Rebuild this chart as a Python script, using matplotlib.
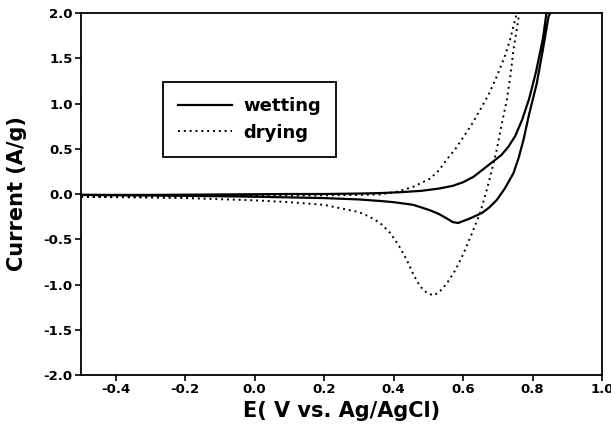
import numpy as np
import matplotlib
matplotlib.use('Agg')
import matplotlib.pyplot as plt

# wetting loop (solid): anodic sweep then cathodic sweep
wet_fwd_E = [-0.5, -0.3, -0.1, 0.1, 0.2, 0.3, 0.36, 0.42, 0.48, 0.53, 0.57, 0.60,
             0.63, 0.65, 0.67, 0.69, 0.71, 0.73, 0.75, 0.77, 0.79, 0.81, 0.83, 0.84]
wet_fwd_I = [-0.01, -0.01, -0.005, 0.0, 0.0, 0.005, 0.01, 0.02, 0.035, 0.06, 0.09, 0.13,
             0.19, 0.25, 0.31, 0.37, 0.43, 0.52, 0.64, 0.82, 1.05, 1.35, 1.72, 2.0]
wet_rev_E = [0.851, 0.846, 0.83, 0.812, 0.79, 0.774, 0.76, 0.745, 0.72, 0.697, 0.675,
             0.654, 0.62, 0.586, 0.57, 0.553, 0.53, 0.505, 0.457, 0.40, 0.361, 0.3,
             0.2, 0.0, -0.2, -0.5]
wet_rev_I = [2.0, 1.96, 1.6, 1.22, 0.88, 0.60, 0.40, 0.23, 0.06, -0.066, -0.15,
             -0.21, -0.27, -0.32, -0.31, -0.27, -0.22, -0.18, -0.12, -0.09, -0.077, -0.06,
             -0.045, -0.03, -0.02, -0.01]

# drying loop (dotted)
dry_fwd_E = [-0.5, -0.2, 0.0, 0.2, 0.3, 0.361, 0.409, 0.457, 0.505, 0.53, 0.553, 0.58,
             0.601, 0.625, 0.649, 0.675, 0.697, 0.72, 0.735, 0.752, 0.755]
dry_fwd_I = [-0.03, -0.025, -0.02, -0.015, -0.01, -0.005, 0.025, 0.08, 0.17, 0.26, 0.38, 0.51,
             0.63, 0.77, 0.93, 1.11, 1.30, 1.52, 1.70, 1.96, 2.0]
dry_rev_E = [0.762, 0.745, 0.736, 0.726, 0.71, 0.697, 0.678, 0.665, 0.649, 0.625, 0.601,
             0.578, 0.553, 0.53, 0.514, 0.495, 0.476, 0.457, 0.438, 0.415, 0.39, 0.361,
             0.33, 0.3, 0.25, 0.2, 0.1, 0.0, -0.2, -0.5]
dry_rev_I = [2.0, 1.59, 1.30, 1.04, 0.75, 0.49, 0.19, 0.0, -0.21, -0.44, -0.66,
             -0.84, -0.99, -1.09, -1.12, -1.09, -1.02, -0.89, -0.73, -0.57, -0.43, -0.32,
             -0.25, -0.2, -0.16, -0.12, -0.09, -0.07, -0.045, -0.03]

x_ticks = [-0.4, -0.2, 0.0, 0.2, 0.4, 0.6, 0.8, 1.0]
y_ticks = [-2.0, -1.5, -1.0, -0.5, 0.0, 0.5, 1.0, 1.5, 2.0]

plt.rcParams['font.family'] = 'DejaVu Sans'
plt.rcParams['font.weight'] = 'bold'

fig = plt.figure(figsize=(6.11, 4.44), dpi=100)
ax = fig.add_axes([0.1326, 0.1554, 0.8527, 0.8153])

wet_E = wet_fwd_E + wet_rev_E
wet_I = wet_fwd_I + wet_rev_I
dry_E = dry_fwd_E + dry_rev_E
dry_I = dry_fwd_I + dry_rev_I

ax.plot(wet_E, wet_I, color='k', lw=1.6, label='wetting')
ax.plot(dry_E, dry_I, color='k', lw=1.4, linestyle=(0, (1, 2)), label='drying')

ax.set_xlim(-0.5, 1.0)
ax.set_ylim(-2.0, 2.0)
ax.set_xticks(x_ticks)
ax.set_yticks(y_ticks)
ax.set_xticklabels(['{:.1f}'.format(v) for v in x_ticks])
ax.set_yticklabels(['{:.1f}'.format(v) for v in y_ticks])
ax.tick_params(direction='out', length=4, width=1.2, labelsize=9.5, pad=2)
for s in ax.spines.values():
    s.set_linewidth(1.3)

ax.set_xlabel('E( V vs. Ag/AgCl)', fontsize=15, fontweight='bold', labelpad=3)
ax.set_ylabel('Current (A/g)', fontsize=15, fontweight='bold', labelpad=12)

leg = ax.legend(loc='upper left', bbox_to_anchor=(0.157, 0.809), fontsize=13,
                handlelength=3.0, handletextpad=0.6, labelspacing=0.45,
                borderpad=0.85, borderaxespad=0, fancybox=False, framealpha=1)
leg.get_frame().set_edgecolor('k')
leg.get_frame().set_linewidth(1.3)

fig.savefig('out.png', dpi=100)
